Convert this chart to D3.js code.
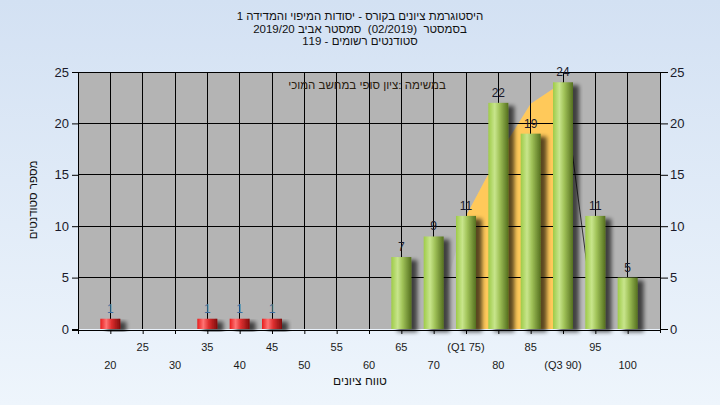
<!DOCTYPE html>
<html><head><meta charset="utf-8">
<script src="https://cdn.jsdelivr.net/npm/d3@7/dist/d3.min.js"></script>
<style>
html,body{margin:0;padding:0;}
body{width:720px;height:405px;overflow:hidden;font-family:"Liberation Sans",Arial,sans-serif;}
text{white-space:pre;}
</style></head>
<body><svg id="c" width="720" height="405"></svg>
<script>
// ---- data ----
const grades = [20,25,30,35,40,45,50,55,60,65,70,75,80,85,90,95,100];
const counts = [1,0,0,1,1,1,0,0,0,7,9,11,22,19,24,11,5];
const tickLabels = ["20","25","30","35","40","45","50","55","60","65","70","(Q1 75)","80","85","(Q3 90)","95","100"];
const yTicks = [0,5,10,15,20,25];
const curveX = [70,75,80,85,90,95];
const curveY = [0,11,16.9,21.9,24,0];
const q1 = 75, q3 = 90;
const passGrade = 55;
const titleLines = ["היסטוגרמת ציונים בקורס - יסודות המיפוי והמדידה 1",
                    "בסמסטר  (02/2019)  סמסטר אביב 2019/20",
                    "סטודנטים רשומים - 119"];
const note = "במשימה :ציון סופי במחשב המוכי";
const xTitle = "טווח ציונים";
const yTitle = "מספר סטודנטים";

// ---- drawing ----
const svg = d3.select("#c");
const defs = svg.append("defs");
const bg = defs.append("linearGradient").attr("id","bg").attr("x1",0).attr("y1",0).attr("x2",0).attr("y2",1);
bg.append("stop").attr("offset","0%").attr("stop-color","#d3e1f3");
bg.append("stop").attr("offset","100%").attr("stop-color","#eef5fc");
function grad(id, stops){
  const g = defs.append("linearGradient").attr("id",id).attr("x1",0).attr("y1",0).attr("x2",1).attr("y2",0);
  stops.forEach(s=>g.append("stop").attr("offset",s[0]).attr("stop-color",s[1]));
}
grad("gGreen",[["0%","#9ecb48"],["32%","#c8e58c"],["55%","#a2c45a"],["100%","#55701f"]]);
grad("gRed",[["0%","#e81c1c"],["30%","#ff7474"],["55%","#e03030"],["100%","#7e0c0c"]]);
const f = defs.append("filter").attr("id","sh").attr("x","-50%").attr("y","-20%").attr("width","200%").attr("height","140%");
f.append("feGaussianBlur").attr("in","SourceAlpha").attr("stdDeviation",2).attr("result","b");
f.append("feOffset").attr("in","b").attr("dx",6).attr("dy",3).attr("result","o");
f.append("feComponentTransfer").attr("in","o").attr("result","o2").append("feFuncA").attr("type","linear").attr("slope",0.65);
const fm = f.append("feMerge"); fm.append("feMergeNode").attr("in","o2"); fm.append("feMergeNode").attr("in","SourceGraphic");

svg.append("rect").attr("width",720).attr("height",405).attr("fill","url(#bg)");

const L=78, R=660, T=72, B=329;
const x = d3.scaleLinear().domain([15,105]).range([L,R]);
const y = d3.scaleLinear().domain([0,25]).range([B,T]);

svg.append("rect").attr("x",L).attr("y",T).attr("width",R-L).attr("height",B-T).attr("fill","#b4b4b4");

// curve area
const pts = curveX.map((v,i)=>[v,curveY[i]]);
const area = d3.area().x(d=>x(d[0])).y0(y(0)).y1(d=>y(d[1]));
svg.append("path").datum(pts).attr("d",area).attr("fill","#bcbcbc");
const inner = pts.filter(d=>d[0]>=q1 && d[0]<=q3);
svg.append("path").datum(inner).attr("d",area).attr("fill","#ffc95a");
const tail = pts.filter(d=>d[0]>=q3);
svg.append("path").datum(tail).attr("d",d3.line().x(d=>x(d[0])).y(d=>y(d[1]))).attr("fill","none").attr("stroke","#333").attr("stroke-width",1);

// grid
const g = svg.append("g").attr("stroke","#000").attr("stroke-width",1).attr("shape-rendering","crispEdges");
yTicks.filter(t=>t>0).forEach(t=>g.append("line").attr("x1",L).attr("x2",R).attr("y1",y(t)).attr("y2",y(t)));
grades.forEach(v=>g.append("line").attr("x1",x(v)).attr("x2",x(v)).attr("y1",T).attr("y2",B));

// bars
const bw = 20;
const bars = svg.append("g");
grades.forEach((v,i)=>{
  if(!counts[i]) return;
  bars.append("rect").attr("x",x(v)-bw/2).attr("y",y(counts[i])).attr("width",bw).attr("height",y(0)-y(counts[i]))
    .attr("fill", v<passGrade ? "url(#gRed)" : "url(#gGreen)").attr("filter","url(#sh)");
});
grades.forEach((v,i)=>{
  if(!counts[i]) return;
  svg.append("text").attr("x",x(v)).attr("y",y(counts[i])-6).attr("text-anchor","middle")
    .attr("font-size",12).attr("fill", v<passGrade ? "#3c6c9e" : "#1a1a2a").text(counts[i]);
});

// axes
const ax = svg.append("g").attr("stroke","#000").attr("shape-rendering","crispEdges");
ax.append("line").attr("x1",L).attr("x2",L).attr("y1",T).attr("y2",B+4);
ax.append("line").attr("x1",R).attr("x2",R).attr("y1",T).attr("y2",B+4);
ax.append("line").attr("x1",L-6).attr("x2",R).attr("y1",B+1).attr("y2",B+1);
const yl = svg.append("g").attr("transform",`translate(${L},0)`)
  .call(d3.axisLeft(y).tickValues(yTicks).tickSize(6).tickPadding(3));
const yr = svg.append("g").attr("transform",`translate(${R},0)`)
  .call(d3.axisRight(y).tickValues(yTicks).tickSize(8).tickPadding(2));
[yl,yr].forEach(a=>{a.select(".domain").remove();a.selectAll("text").attr("font-size",13).attr("fill","#1a1a2a").attr("font-family","Liberation Sans, Arial");a.selectAll("line").attr("stroke","#000");});
const xa = svg.append("g").attr("transform",`translate(0,${B+1})`)
  .call(d3.axisBottom(x).tickValues([15].concat(grades)).tickSize(4).tickFormat(""));
xa.select(".domain").remove();
xa.selectAll("line").attr("stroke","#000");
grades.forEach((v,i)=>{
  svg.append("text").attr("x",x(v)).attr("y", i%2===0 ? 369 : 351).attr("text-anchor","middle")
    .attr("font-size",11).attr("fill","#1a1a1a").text(tickLabels[i]);
});

// texts
titleLines.forEach((t,i)=>{
  svg.append("text").attr("x",360).attr("y",20+i*12.5).attr("text-anchor","middle").attr("direction","rtl")
    .attr("font-size",11.5).attr("fill","#111").text(t);
});
svg.append("text").attr("x",367).attr("y",89).attr("text-anchor","middle").attr("direction","rtl")
  .attr("font-size",11.5).attr("fill","#2a2010").text(note);
svg.append("text").attr("x",360).attr("y",385).attr("text-anchor","middle").attr("direction","rtl")
  .attr("font-size",12).attr("fill","#111").text(xTitle);
svg.append("text").attr("transform","translate(37,200) rotate(-90)").attr("text-anchor","middle").attr("direction","rtl")
  .attr("font-size",11.5).attr("fill","#111").text(yTitle);
</script></body></html>
